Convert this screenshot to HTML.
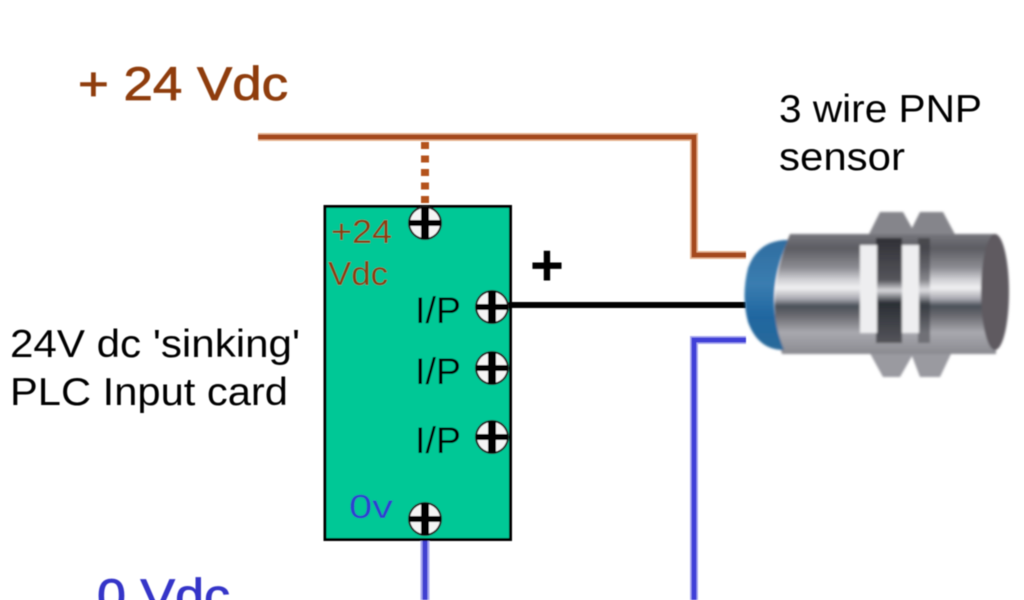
<!DOCTYPE html>
<html><head><meta charset="utf-8"><style>
html,body{margin:0;padding:0;background:#fff;width:1024px;height:600px;overflow:hidden}
svg{display:block}
text{font-family:"Liberation Sans",sans-serif}
</style></head><body>
<svg width="1024" height="600" viewBox="0 0 1024 600" xmlns="http://www.w3.org/2000/svg" style="overflow:hidden">
<defs>
<filter id="b" x="-5%" y="-5%" width="110%" height="110%"><feGaussianBlur stdDeviation="0.6"/></filter>
<filter id="b2" x="-5%" y="-5%" width="110%" height="110%"><feGaussianBlur stdDeviation="1.2"/></filter>
<linearGradient id="metal" x1="0" y1="0" x2="0" y2="1">
<stop offset="0" stop-color="#77777d"/><stop offset=".12" stop-color="#5c5c62"/><stop offset=".28" stop-color="#8c8c92"/><stop offset=".38" stop-color="#d0d0d4"/><stop offset=".45" stop-color="#f0f0f2"/><stop offset=".54" stop-color="#a8a8b0"/><stop offset=".6" stop-color="#4a5058"/><stop offset=".68" stop-color="#6a6a70"/><stop offset=".82" stop-color="#a8a8ae"/><stop offset="1" stop-color="#8a8a90"/>
</linearGradient>
<linearGradient id="cap" x1="0" y1="0" x2="0" y2="1">
<stop offset="0" stop-color="#2f6da0"/><stop offset=".4" stop-color="#3a7db0"/><stop offset=".7" stop-color="#1f66a0"/><stop offset="1" stop-color="#2a6a9a"/>
</linearGradient>
<linearGradient id="band" x1="0" y1="0" x2="0" y2="1">
<stop offset="0" stop-color="#2f2f35"/><stop offset=".4" stop-color="#55555b"/><stop offset=".5" stop-color="#d8d8dc"/><stop offset=".62" stop-color="#2a2e34"/><stop offset="1" stop-color="#55555b"/>
</linearGradient>
<g id="s">
<circle r="17" fill="#222"/><circle r="15" fill="#f4f4f4"/>
<path d="M-16-3H-4V-16H4V-3H16V3H4V16H-4V3H-16Z" fill="#000"/>
</g>
</defs>
<g filter="url(#b)">
<path d="M258 137H694V255H746" fill="none" stroke="#e8b48e" stroke-width="8"/>
<path d="M258 137H694V255H746" fill="none" stroke="#a5481a" stroke-width="5"/>
<path d="M425 142V205" fill="none" stroke="#b4531f" stroke-width="8" stroke-dasharray="7 6.5"/>
<path d="M746 340H694V600" fill="none" stroke="#a8a8f0" stroke-width="8"/>
<path d="M746 340H694V600" fill="none" stroke="#3f3fd8" stroke-width="5"/>
<path d="M425 540V600" fill="none" stroke="#a8a8f0" stroke-width="9"/>
<path d="M425 540V600" fill="none" stroke="#3f3fd0" stroke-width="5"/>
<rect x="325" y="206.500" width="185.500" height="333" fill="#00c896" stroke="#000" stroke-width="3"/>
<path d="M500 305H746" stroke="#000" stroke-width="6" fill="none"/>
<use href="#s" x="425" y="223"/><use href="#s" x="492" y="307"/><use href="#s" x="492" y="368"/><use href="#s" x="492" y="437"/><use href="#s" x="425" y="519"/>
<g fill="#8f3d0c">
<text x="78" y="100" font-size="47" textLength="210" lengthAdjust="spacingAndGlyphs" stroke="#8f3d0c" stroke-width="0.8">+ 24 Vdc</text>
<text x="331" y="243" font-size="33" textLength="61" lengthAdjust="spacingAndGlyphs">+24</text>
<text x="328" y="285" font-size="33" textLength="60" lengthAdjust="spacingAndGlyphs">Vdc</text>
</g>
<g fill="#000">
<text x="779" y="122" font-size="39" textLength="203" lengthAdjust="spacingAndGlyphs">3 wire PNP</text>
<text x="779" y="170" font-size="39" textLength="126" lengthAdjust="spacingAndGlyphs">sensor</text>
<text x="10" y="357" font-size="39" textLength="290" lengthAdjust="spacingAndGlyphs">24V dc 'sinking'</text>
<text x="10" y="405" font-size="39" textLength="278" lengthAdjust="spacingAndGlyphs">PLC Input card</text>
<text x="415" y="323" font-size="37" textLength="46" lengthAdjust="spacingAndGlyphs">I/P</text>
<text x="415" y="384" font-size="37" textLength="46" lengthAdjust="spacingAndGlyphs">I/P</text>
<text x="415" y="453" font-size="37" textLength="46" lengthAdjust="spacingAndGlyphs">I/P</text>
<text x="530" y="285" font-size="58" font-weight="bold">+</text>
</g>
<text x="349" y="518" font-size="33" fill="#2f3fd0" textLength="44" lengthAdjust="spacingAndGlyphs">0v</text>
<text x="97" y="612" font-size="47" fill="#3434c8" textLength="133" lengthAdjust="spacingAndGlyphs" stroke="#3434c8" stroke-width="0.8">0 Vdc</text>
</g>
<g filter="url(#b2)">
<path d="M866 240L880 212H903L912 228L920 212H943L958 240Z" fill="#85858b"/>
<path d="M860 335L883 377H900L912 356L920 377H940L960 335Z" fill="#9a9aa0"/>
<path d="M790 234H996V354H782Q764 296 790 234Z" fill="url(#metal)"/>
<rect x="876" y="238" width="26" height="105" fill="url(#band)"/>
<rect x="918" y="238" width="12" height="105" fill="url(#band)" opacity=".6"/>
<rect x="860" y="245" width="17" height="88" fill="#eeeef0"/>
<rect x="902" y="245" width="17" height="88" fill="#eeeef0"/>
<path d="M788 240Q758 240 748 268Q741 296 748 322Q758 350 784 350Q762 296 788 240Z" fill="url(#cap)"/>
<ellipse cx="995" cy="292" rx="14" ry="58" fill="#5f5a60"/>
</g>
</svg>
</body></html>
